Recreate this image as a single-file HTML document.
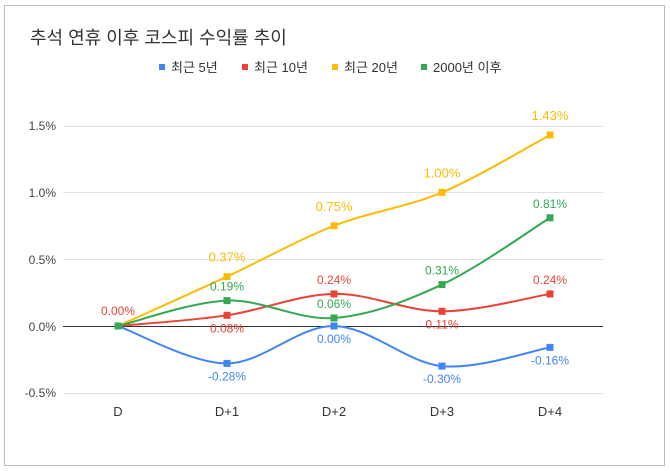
<!DOCTYPE html>
<html><head><meta charset="utf-8"><style>
body{margin:0;background:#fff;}
svg{display:block;font-family:"Liberation Sans","Noto Sans CJK KR",sans-serif;}
</style></head><body>
<svg id="s" width="670" height="471" xmlns="http://www.w3.org/2000/svg">
<rect x="0" y="0" width="670" height="471" fill="#fff"/>
<rect x="4.5" y="5.5" width="660" height="460" fill="#fff" stroke="#bdbdbd"/>
<text x="30" y="44" font-size="18" fill="#333">추석 연휴 이후 코스피 수익률 추이</text>
<g font-size="13" fill="#333">
<rect x="159" y="64" width="6" height="6" fill="#4285f4"/><text x="171" y="72">최근 5년</text>
<rect x="242" y="64" width="6" height="6" fill="#ea4335"/><text x="254" y="72">최근 10년</text>
<rect x="332" y="64" width="6" height="6" fill="#fbbc04"/><text x="344" y="72">최근 20년</text>
<rect x="421" y="64" width="6" height="6" fill="#34a853"/><text x="433" y="72">2000년 이후</text>
</g>
<g stroke="#e0e0e0" stroke-width="1">
<line x1="63" x2="603" y1="126.5" y2="126.5"/>
<line x1="63" x2="603" y1="192.5" y2="192.5"/>
<line x1="63" x2="603" y1="259.5" y2="259.5"/>
<line x1="63" x2="603" y1="393.5" y2="393.5"/>
</g>
<line x1="63" x2="603" y1="326.5" y2="326.5" stroke="#333"/>
<g font-size="12" fill="#444" text-anchor="end">
<text x="56" y="130">1.5%</text><text x="56" y="197">1.0%</text><text x="56" y="264">0.5%</text><text x="56" y="331">0.0%</text><text x="56" y="397">-0.5%</text>
</g>
<g font-size="13" fill="#333" text-anchor="middle">
<text x="118" y="416">D</text><text x="227" y="416">D+1</text><text x="334" y="416">D+2</text><text x="442" y="416">D+3</text><text x="550" y="416">D+4</text>
</g>
<g id="series"></g>
</svg>
<script>
var xs=[118,227,334,442,550];
function Y(v){return 326-v*133.6;}
var S=[
{c:"#4285f4",v:[0,-0.28,0,-0.30,-0.16],lab:[null,[-0.28,1],[0.00,1],[-0.30,1],[-0.16,1]]},
{c:"#ea4335",v:[0,0.08,0.24,0.11,0.24],lab:[null,[0.08,1],[0.24,-1],[0.11,1],[0.24,-1]]},
{c:"#fbbc04",v:[0,0.37,0.75,1.00,1.43],lab:[null,[0.37,-1],[0.75,-1],[1.00,-1],[1.43,-1]]},
{c:"#34a853",v:[0,0.19,0.06,0.31,0.81],lab:[null,[0.19,-1],[0.06,-1],[0.31,-1],[0.81,-1]]}
];
var g=document.getElementById("series"),h="";
S.forEach(function(s,si){
 var p=xs.map(function(x,i){return [x,Y(s.v[i])];});
 var d="M"+p[0][0]+","+p[0][1];
 for(var i=0;i<p.length-1;i++){
  var p0=p[Math.max(i-1,0)],p1=p[i],p2=p[i+1],p3=p[Math.min(i+2,p.length-1)];
  var t=0.5/3;
  var c1=[p1[0]+(p2[0]-p0[0])*t,p1[1]+(p2[1]-p0[1])*t];
  var c2=[p2[0]-(p3[0]-p1[0])*t,p2[1]-(p3[1]-p1[1])*t];
  d+=" C"+c1+" "+c2+" "+p2;
 }
 h+='<path d="'+d+'" fill="none" stroke="'+s.c+'" stroke-width="2"/>';
 p.forEach(function(q,i){
  h+='<rect x="'+(q[0]-3.5)+'" y="'+(q[1]-3.5)+'" width="7" height="7" fill="'+s.c+'"/>';
  var L=s.lab[i];
  if(L){var up=si==2?15:10;var yy=L[1]<0?q[1]-up:q[1]+17;
   h+='<text x="'+q[0]+'" y="'+yy+'" font-size="'+(si==2?13:12)+'" fill="'+s.c+'" text-anchor="middle">'+L[0].toFixed(2)+'%</text>';}
 });
});
h+='<rect x="114.5" y="322.5" width="7" height="7" fill="#34a853"/>';
h+='<text x="118" y="315" font-size="12" fill="#ea4335" text-anchor="middle">0.00%</text>';
g.innerHTML=h;
</script>
</body></html>
